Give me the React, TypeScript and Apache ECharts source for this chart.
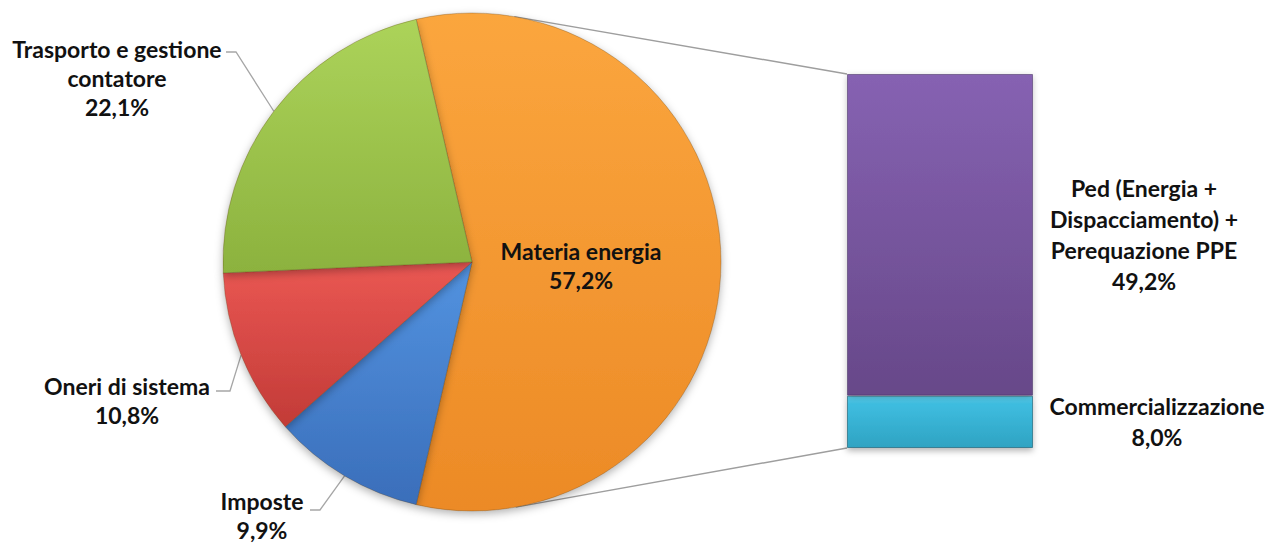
import React, { useEffect, useRef } from "react";
import * as echarts from "echarts";

// ---- data ----
const pieNames = ["Materia energia", "Imposte", "Oneri di sistema", "Trasporto e gestione\ncontatore"];
const pieValues = [57.2, 9.9, 10.8, 22.1];
const barNames = ["Commercializzazione", "Ped (Energia +\nDispacciamento) +\nPerequazione PPE"];
const barValues = [8.0, 49.2];

const fmt = (v: number) => v.toFixed(1).replace(".", ",") + "%";

// ---- layout ----
const W = 1270, H = 544;
const CX = 472, CY = 262, R = 249;
const BAR_L = 847, BAR_T = 74, BAR_W = 186, BAR_H = 374;
const FONT = "Lato";

const pieColors = [
  ["#FBA63E", "#EC8A26"],
  ["#5393E0", "#3A6EBA"],
  ["#EA5753", "#C23B37"],
  ["#ACD35A", "#8CB23E"],
];
const pieLabelPos: any[] = [
  { x: 581, y: 265 },
  { x: 262, y: 515, pts: [[320, 510], [310, 510]] },
  { x: 127, y: 400, pts: [[230, 391], [216, 391]] },
  { x: 117, y: 78, pts: [[236, 52], [226, 52]] },
];

function tangent(px: number, py: number, upper: boolean) {
  const dx = px - CX, dy = py - CY;
  const d = Math.hypot(dx, dy);
  const base = Math.atan2(dy, dx);
  const off = Math.acos(R / d);
  const a = upper ? base - off : base + off;
  return [CX + R * Math.cos(a), CY + R * Math.sin(a)];
}

export default function App() {
  const ref = useRef<HTMLDivElement>(null);
  useEffect(() => {
    const chart = echarts.init(ref.current!, undefined, { renderer: "svg" });
    const otherShare = pieValues[0] / pieValues.reduce((a, b) => a + b, 0);
    const barTotal = barValues.reduce((a, b) => a + b, 0);
    const t1 = tangent(BAR_L, BAR_T, true);
    const t2 = tangent(BAR_L, BAR_T + BAR_H, false);
    const textStyle = { fontFamily: FONT, fontWeight: "bold" as const, fontSize: 23, color: "#111111" };

    chart.setOption({
      animation: false,
      backgroundColor: "#ffffff",
      graphic: [
        { type: "line", z: 0, shape: { x1: t1[0], y1: t1[1], x2: BAR_L, y2: BAR_T }, style: { stroke: "#9E9E9E", lineWidth: 1.5 } },
        { type: "line", z: 0, shape: { x1: t2[0], y1: t2[1], x2: BAR_L, y2: BAR_T + BAR_H }, style: { stroke: "#9E9E9E", lineWidth: 1.5 } },
      ],
      grid: { left: BAR_L, top: BAR_T, width: BAR_W, height: BAR_H },
      xAxis: { type: "category", data: ["Altro"], show: false },
      yAxis: { type: "value", min: 0, max: barTotal, show: false },
      series: [
        {
          type: "pie",
          z: 3,
          center: [CX, CY],
          radius: R,
          startAngle: otherShare * 180,
          clockwise: true,
          avoidLabelOverlap: false,
          data: pieValues.map((v, i) => ({
            name: pieNames[i],
            value: v,
            itemStyle: {
              color: new echarts.graphic.LinearGradient(0, 0, 0, 1, [
                { offset: 0, color: pieColors[i][0] },
                { offset: 1, color: pieColors[i][1] },
              ]),
            },
            label: i === 0 ? { position: "inside" } : undefined,
            labelLine: i === 0 ? { show: false } : undefined,
          })),
          itemStyle: {
            borderColor: "rgba(90,60,20,0.3)",
            borderWidth: 1,
            shadowBlur: 8,
            shadowOffsetY: 3,
            shadowColor: "rgba(0,0,0,0.3)",
          },
          label: {
            show: true,
            position: "outside",
            ...textStyle,
            lineHeight: 29,
            align: "center",
            formatter: (p: any) => p.name + "\n" + fmt(p.value),
          },
          labelLine: { show: true, lineStyle: { color: "#A6A6A6", width: 1.3 } },
          labelLayout: (p: any) => {
            const c = pieLabelPos[p.dataIndex];
            const res: any = { x: c.x, y: c.y, align: "center", verticalAlign: "middle" };
            if (c.pts && p.labelLinePoints) res.labelLinePoints = [p.labelLinePoints[0], ...c.pts];
            return res;
          },
        },
        {
          type: "bar",
          stack: "other",
          barWidth: "100%",
          z: 3,
          data: [barValues[0]],
          name: barNames[0],
          itemStyle: {
            color: new echarts.graphic.LinearGradient(0, 0, 0, 1, [
              { offset: 0, color: "#5ED0EE" },
              { offset: 0.15, color: "#3EBDE0" },
              { offset: 1, color: "#2FA3C2" },
            ]),
            borderColor: "rgba(20,90,110,0.6)",
            borderWidth: 1,
            shadowBlur: 6,
            shadowOffsetY: 3,
            shadowColor: "rgba(0,0,0,0.3)",
          },
          label: {
            show: true,
            position: [310, "50%"],
            align: "center",
            verticalAlign: "middle",
            ...textStyle,
            lineHeight: 31,
            formatter: (p: any) => barNames[0] + "\n" + fmt(p.value),
          },
        },
        {
          type: "bar",
          stack: "other",
          barWidth: "100%",
          z: 3,
          data: [barValues[1]],
          name: barNames[1],
          itemStyle: {
            color: new echarts.graphic.LinearGradient(0, 0, 0, 1, [
              { offset: 0, color: "#8662B2" },
              { offset: 1, color: "#674889" },
            ]),
            borderColor: "rgba(60,40,90,0.5)",
            borderWidth: 1,
            shadowBlur: 6,
            shadowOffsetY: 2,
            shadowColor: "rgba(0,0,0,0.25)",
          },
          label: {
            show: true,
            position: [297, "50%"],
            align: "center",
            verticalAlign: "middle",
            ...textStyle,
            lineHeight: 31,
            formatter: (p: any) => barNames[1] + "\n" + fmt(p.value),
          },
        },
      ],
    });
    return () => chart.dispose();
  }, []);
  return <div ref={ref} style={{ position: "fixed", left: 0, top: 0, width: W, height: H }} />;
}
